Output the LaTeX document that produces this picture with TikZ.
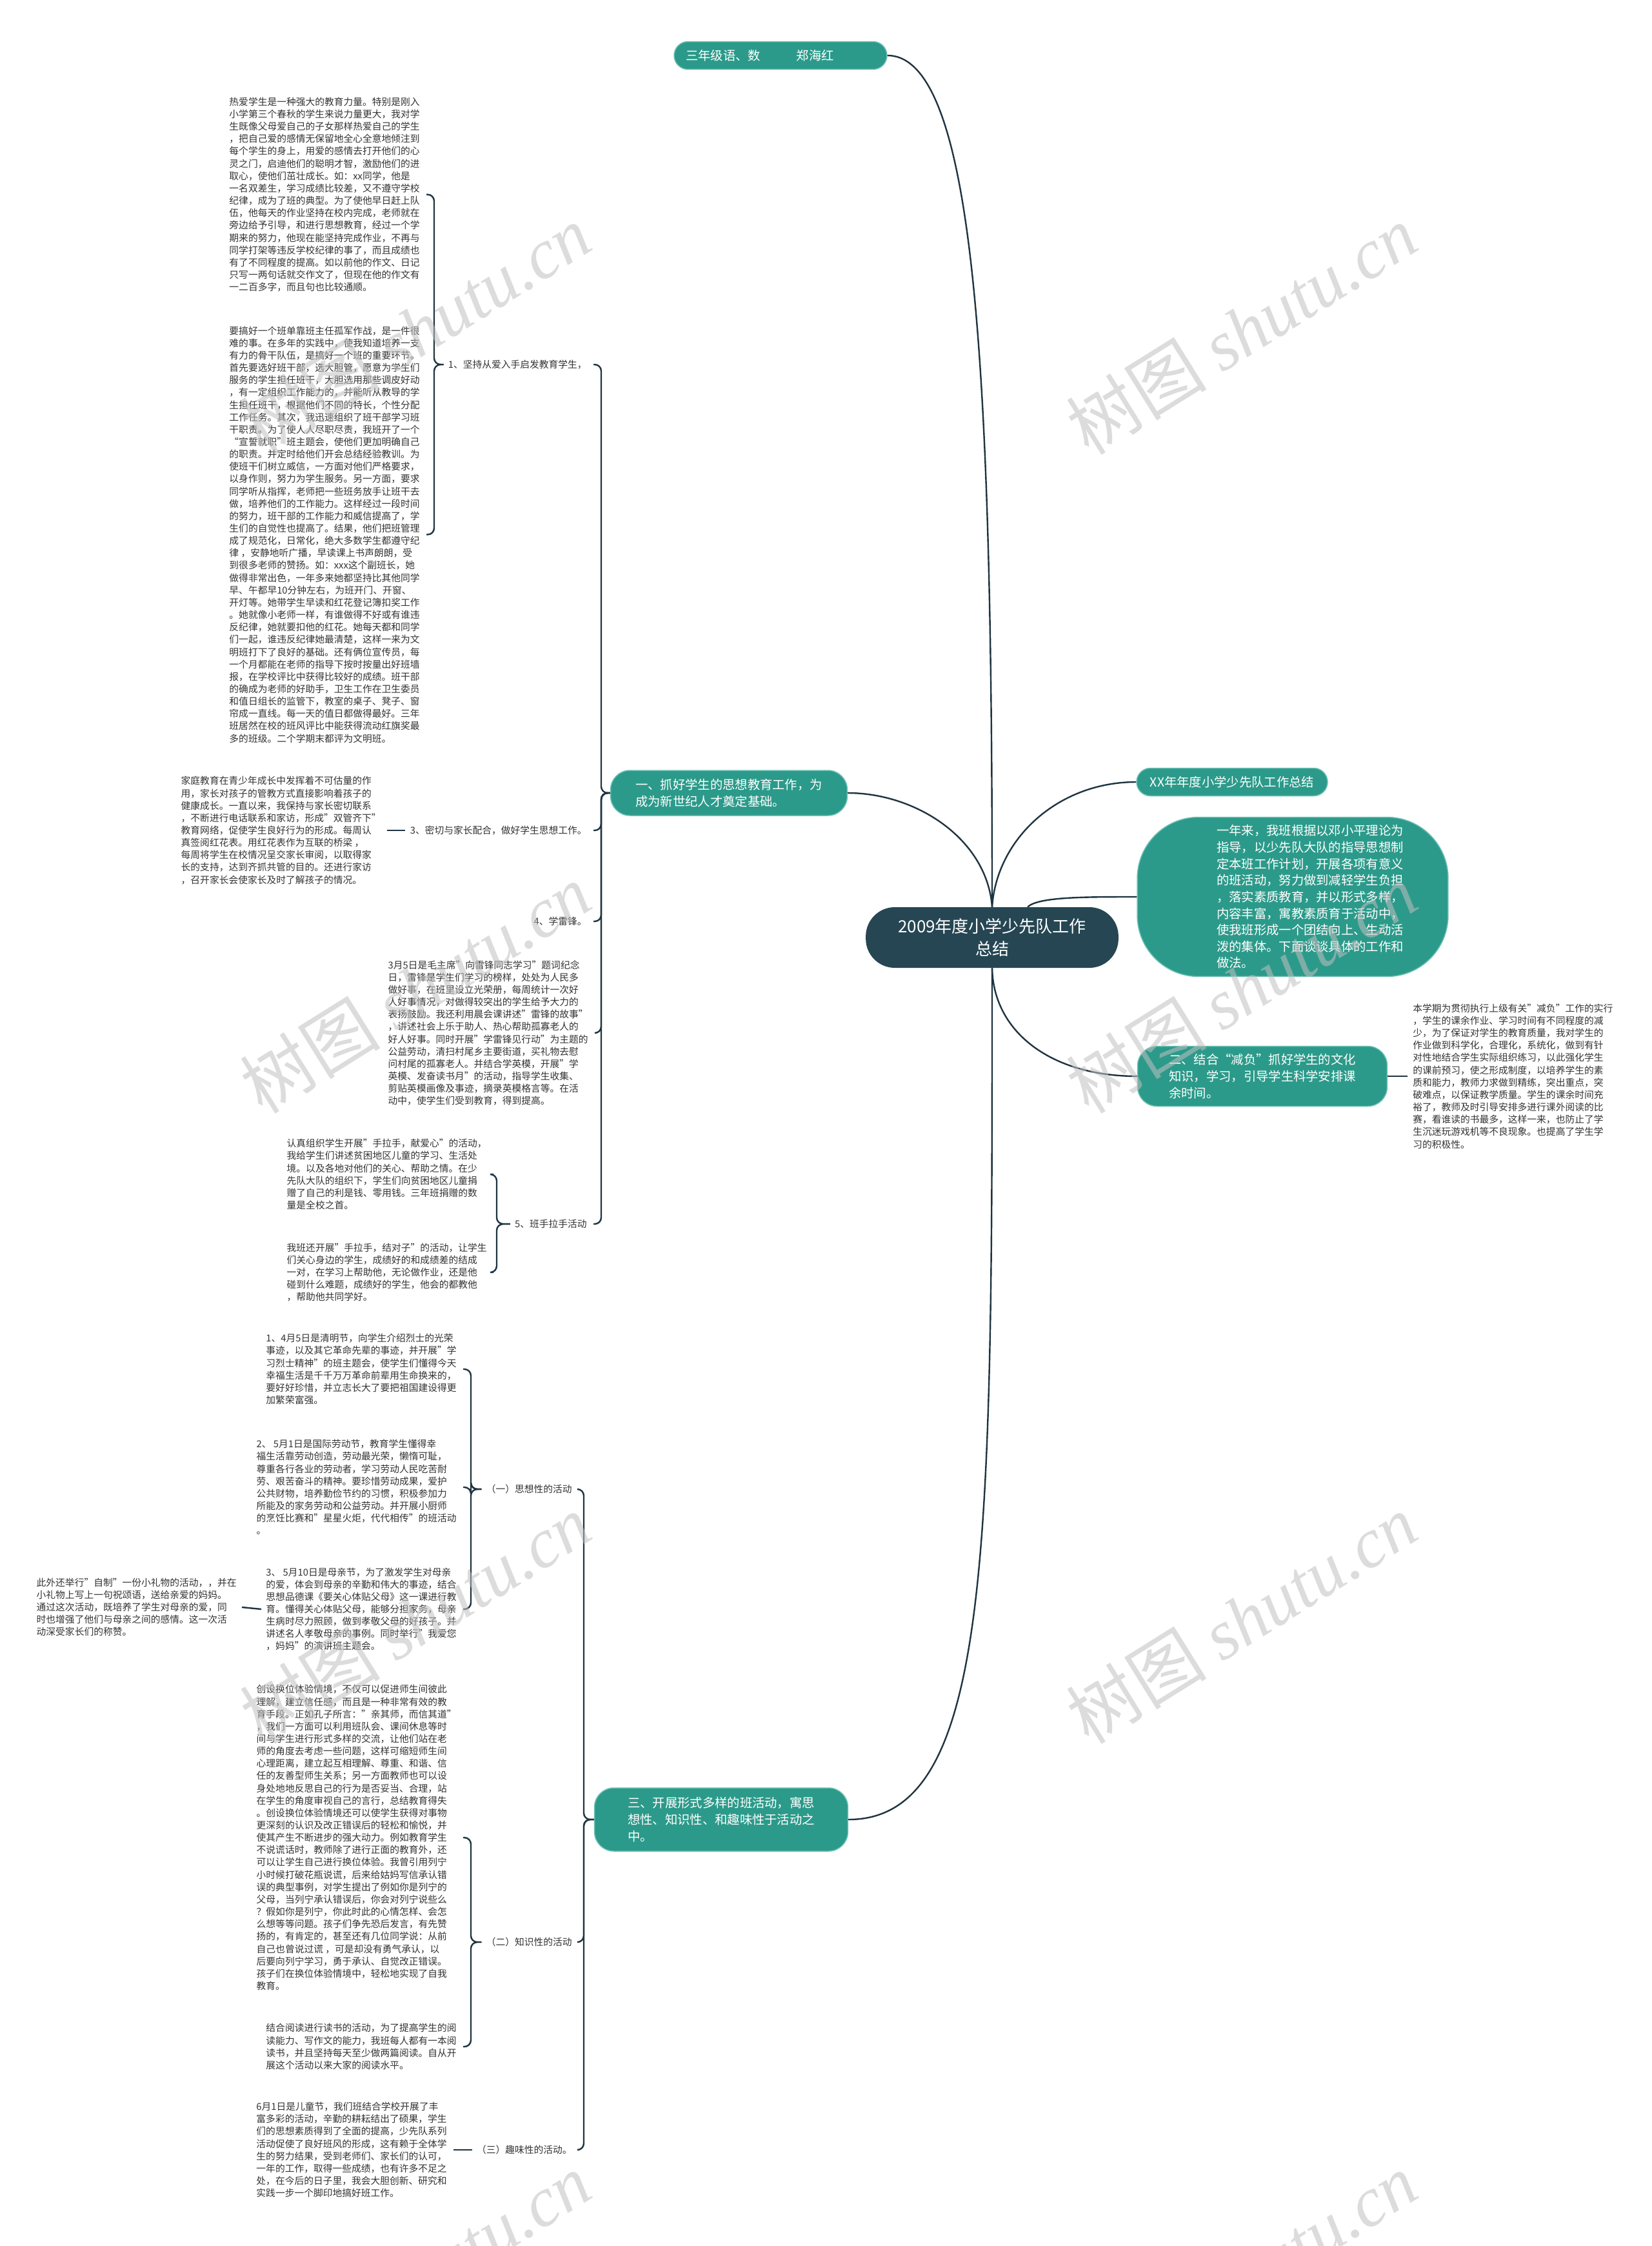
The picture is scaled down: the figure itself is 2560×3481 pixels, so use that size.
\documentclass[tikz,border=0pt]{standalone}
\usepackage{fontspec}
\setmainfont{Noto Sans CJK SC}
\newfontfamily\wmlatin{Liberation Serif}
\usepackage{tikz}
\usetikzlibrary{positioning,calc}
\definecolor{ink}{HTML}{333333}
\definecolor{linecol}{HTML}{1F3440}
\definecolor{tealbox}{HTML}{2C9A8A}
\definecolor{tealedge}{HTML}{6CC0B3}
\definecolor{rootcol}{HTML}{264653}
\definecolor{wmgray}{HTML}{C0C0C0}
\newcommand{\ftext}{\fontsize{8.4pt}{10.9pt}\selectfont}
\newcommand{\fbranch}{\fontsize{11pt}{14.6pt}\selectfont}
\newcommand{\froot}{\fontsize{14.8pt}{19.9pt}\selectfont}
\newcommand{\fwm}{\fontsize{62pt}{70pt}\selectfont}

\begin{document}
\begin{tikzpicture}[x=0.02cm,y=-0.02cm,
  link/.style={draw=linecol,line width=0.048cm},
  elbow/.style={link,rounded corners=0.2cm},
  para/.style={font=\ftext,text=ink,align=left,inner sep=0pt},
  tag/.style={para},
  topic/.style={fill=tealbox,draw=tealedge,line width=0.03cm,text=white,font=\fbranch,align=left,rounded corners=0.6cm},
  pill/.style={topic,rounded corners=0.43cm,minimum height=0.86cm,inner ysep=0pt},
  wm/.style={font=\fwm,text=wmgray,opacity=0.55,rotate=32}]
  \clip (0,0) rectangle (2560,3481);
  \fill[white] (0,0) rectangle (2560,3481);

  % --- 中心主题 ---
  \node[fill=rootcol,text=white,font=\froot,align=center,rounded corners=0.9cm,
    inner xsep=1cm,minimum width=7.78cm,minimum height=1.88cm] (root) at (1538,1453)
    {2009年度小学少先队工作\\总结};

  % --- 右侧主题 ---
  \node[pill,inner xsep=0.36cm] (top) at (1210,86) {三年级语、数\hspace{1.12cm}郑海红\hspace{1.28cm}};
  \node[pill,inner xsep=0.42cm] (xx) at (1910,1212) {XX年年度小学少先队工作总结};
  \node[topic,rounded corners=1.9cm,text width=8.64cm,inner xsep=0.5cm,inner ysep=0.1cm,
    minimum height=4.94cm] (yi) at (2004,1390)
    {\leftskip=1.96cm 一年来，我班根据以邓小平理论为\\
    指导，以少先队大队的指导思想制\\
    定本班工作计划，开展各项有意义\\
    的班活动，努力做到减轻学生负担\\
    ，落实素质教育，并以形式多样，\\
    内容丰富，寓教素质育于活动中，\\
    使我班形成一个团结向上、生动活\\
    泼的集体。下面谈谈具体的工作和\\
    做法。\par};
  \node[topic,inner xsep=0.97cm,minimum height=1.86cm] (er) at (1957,1668)
    {二、结合“减负”抓好学生的文化\\知识，学习，引导学生科学安排课\\余时间。};
  \node[para,anchor=west] (r1) at (2190,1668)
    {本学期为贯彻执行上级有关"减负"工作的实行\\
    ，学生的课余作业、学习时间有不同程度的减\\
    少，为了保证对学生的教育质量，我对学生的\\
    作业做到科学化，合理化，系统化，做到有针\\
    对性地结合学生实际组织练习，以此强化学生\\
    的课前预习，使之形成制度，以培养学生的素\\
    质和能力，教师力求做到精练，突出重点，突\\
    破难点，以保证教学质量。学生的课余时间充\\
    裕了，教师及时引导安排多进行课外阅读的比\\
    赛，看谁读的书最多，这样一来，也防止了学\\
    生沉迷玩游戏机等不良现象。也提高了学生学\\
    习的积极性。};

  % --- 左侧：一 ---
  \node[topic,inner xsep=0.77cm,minimum height=1.4cm] (b1) at (1130,1229)
    {一、抓好学生的思想教育工作，为\\成为新世纪人才奠定基础。};
  \node[tag,anchor=east] (t11) at (910,565) {1、坚持从爱入手启发教育学生，};
  \node[para,anchor=east] (p111) at (651,301.5)
    {热爱学生是一种强大的教育力量。特别是刚入\\
    小学第三个春秋的学生来说力量更大，我对学\\
    生既像父母爱自己的子女那样热爱自己的学生\\
    ，把自己爱的感情无保留地全心全意地倾注到\\
    每个学生的身上，用爱的感情去打开他们的心\\
    灵之门，启迪他们的聪明才智，激励他们的进\\
    取心，使他们茁壮成长。如：xx同学，他是\\
    一名双差生，学习成绩比较差，又不遵守学校\\
    纪律，成为了班的典型。为了使他早日赶上队\\
    伍，他每天的作业坚持在校内完成，老师就在\\
    旁边给予引导，和进行思想教育，经过一个学\\
    期来的努力，他现在能坚持完成作业，不再与\\
    同学打架等违反学校纪律的事了，而且成绩也\\
    有了不同程度的提高。如以前他的作文、日记\\
    只写一两句话就交作文了，但现在他的作文有\\
    一二百多字，而且句也比较通顺。};
  \node[para,anchor=east] (p112) at (651,828.5)
    {要搞好一个班单靠班主任孤军作战，是一件很\\
    难的事。在多年的实践中，使我知道培养一支\\
    有力的骨干队伍，是搞好一个班的重要环节。\\
    首先要选好班干部，选大胆管，愿意为学生们\\
    服务的学生担任班干，大胆选用那些调皮好动\\
    ，有一定组织工作能力的，并能听从教导的学\\
    生担任班干，根据他们不同的特长，个性分配\\
    工作任务。其次，我迅速组织了班干部学习班\\
    干职责。为了使人人尽职尽责，我班开了一个\\
    “宣誓就职”班主题会，使他们更加明确自己\\
    的职责。并定时给他们开会总结经验教训。为\\
    使班干们树立威信，一方面对他们严格要求，\\
    以身作则，努力为学生服务。另一方面，要求\\
    同学听从指挥，老师把一些班务放手让班干去\\
    做，培养他们的工作能力。这样经过一段时间\\
    的努力，班干部的工作能力和威信提高了，学\\
    生们的自觉性也提高了。结果，他们把班管理\\
    成了规范化，日常化，绝大多数学生都遵守纪\\
    律 ，安静地听广播，早读课上书声朗朗，受\\
    到很多老师的赞扬。如：xxx这个副班长，她\\
    做得非常出色，一年多来她都坚持比其他同学\\
    早、午都早10分钟左右，为班开门、开窗、\\
    开灯等。她带学生早读和红花登记簿扣奖工作\\
    。她就像小老师一样，有谁做得不好或有谁违\\
    反纪律，她就要扣他的红花。她每天都和同学\\
    们一起，谁违反纪律她最清楚，这样一来为文\\
    明班打下了良好的基础。还有俩位宣传员，每\\
    一个月都能在老师的指导下按时按量出好班墙\\
    报，在学校评比中获得比较好的成绩。班干部\\
    的确成为老师的好助手，卫生工作在卫生委员\\
    和值日组长的监管下，教室的桌子、凳子、窗\\
    帘成一直线。每一天的值日都做得最好。三年\\
    班居然在校的班风评比中能获得流动红旗奖最\\
    多的班级。二个学期末都评为文明班。};
  \node[tag,anchor=east] (t13) at (910,1287) {3、密切与家长配合，做好学生思想工作。};
  \node[para,anchor=east] (p131) at (591,1287)
    {家庭教育在青少年成长中发挥着不可估量的作\\
    用，家长对孩子的管教方式直接影响着孩子的\\
    健康成长。一直以来，我保持与家长密切联系\\
    ，不断进行电话联系和家访，形成"双管齐下"\\
    教育网络，促使学生良好行为的形成。每周认\\
    真签阅红花表。用红花表作为互联的桥梁 ，\\
    每周将学生在校情况呈交家长审阅，以取得家\\
    长的支持，达到齐抓共管的目的。还进行家访\\
    ，召开家长会使家长及时了解孩子的情况。};
  \node[tag,anchor=east] (t14) at (910,1428) {4、学雷锋。};
  \node[para,anchor=east] (p15) at (912,1601)
    {3月5日是毛主席"向雷锋同志学习"题词纪念\\
    日，雷锋是学生们学习的榜样，处处为人民多\\
    做好事，在班里设立光荣册，每周统计一次好\\
    人好事情况，对做得较突出的学生给予大力的\\
    表扬鼓励。我还利用晨会课讲述"雷锋的故事"\\
    ，讲述社会上乐于助人、热心帮助孤寡老人的\\
    好人好事。同时开展"学雷锋见行动"为主题的\\
    公益劳动，清扫村尾乡主要街道，买礼物去慰\\
    问村尾的孤寡老人。并结合学英模，开展"学\\
    英模、发奋读书月"的活动，指导学生收集、\\
    剪贴英模画像及事迹，摘录英模格言等。在活\\
    动中，使学生们受到教育，得到提高。};
  \node[tag,anchor=east] (t16) at (910,1897) {5、班手拉手活动};
  \node[para,anchor=east] (p161) at (755,1820)
    {认真组织学生开展"手拉手，献爱心"的活动，\\
    我给学生们讲述贫困地区儿童的学习、生活处\\
    境。以及各地对他们的关心、帮助之情。在少\\
    先队大队的组织下，学生们向贫困地区儿童捐\\
    赠了自己的利是钱、零用钱。三年班捐赠的数\\
    量是全校之首。};
  \node[para,anchor=east] (p162) at (755,1972)
    {我班还开展"手拉手，结对子"的活动，让学生\\
    们关心身边的学生，成绩好的和成绩差的结成\\
    一对，在学习上帮助他，无论做作业，还是他\\
    碰到什么难题，成绩好的学生，他会的都教他\\
    ，帮助他共同学好。};

  % --- 左侧：三 ---
  \node[topic,inner xsep=1.03cm,minimum height=1.96cm] (b3) at (1118,2820)
    {三、开展形式多样的班活动，寓思\\想性、知识性、和趣味性于活动之\\中。};
  \node[tag,anchor=east] (t31) at (887,2308) {（一）思想性的活动};
  \node[para,anchor=east] (p311) at (708,2122)
    {1、4月5日是清明节，向学生介绍烈士的光荣\\
    事迹，以及其它革命先辈的事迹，并开展"学\\
    习烈士精神"的班主题会，使学生们懂得今天\\
    幸福生活是千千万万革命前辈用生命换来的，\\
    要好好珍惜，并立志长大了要把祖国建设得更\\
    加繁荣富强。};
  \node[para,anchor=east] (p312) at (708,2305)
    {2、 5月1日是国际劳动节，教育学生懂得幸\\
    福生活靠劳动创造，劳动最光荣，懒惰可耻，\\
    尊重各行各业的劳动者，学习劳动人民吃苦耐\\
    劳、艰苦奋斗的精神。要珍惜劳动成果，爱护\\
    公共财物，培养勤俭节约的习惯，积极参加力\\
    所能及的家务劳动和公益劳动。并开展小厨师\\
    的烹饪比赛和"星星火炬，代代相传"的班活动\\
    。};
  \node[para,anchor=east] (p313) at (708,2494)
    {3、 5月10日是母亲节，为了激发学生对母亲\\
    的爱，体会到母亲的辛勤和伟大的事迹，结合\\
    思想品德课《要关心体贴父母》这一课进行教\\
    育。懂得关心体贴父母，能够分担家务，母亲\\
    生病时尽力照顾，做到孝敬父母的好孩子。并\\
    讲述名人孝敬母亲的事例。同时举行"我爱您\\
    ，妈妈"的演讲班主题会。};
  \node[para,anchor=east] (p3131) at (367,2491)
    {此外还举行"自制"一份小礼物的活动，，并在\\
    小礼物上写上一句祝颂语，送给亲爱的妈妈。\\
    通过这次活动，既培养了学生对母亲的爱，同\\
    时也增强了他们与母亲之间的感情。这一次活\\
    动深受家长们的称赞。};
  \node[tag,anchor=east] (t32) at (887,3010) {（二）知识性的活动};
  \node[para,anchor=east] (p321) at (708,2848)
    {创设换位体验情境，不仅可以促进师生间彼此\\
    理解，建立信任感，而且是一种非常有效的教\\
    育手段。正如孔子所言："亲其师，而信其道"\\
    ，我们一方面可以利用班队会、课间休息等时\\
    间与学生进行形式多样的交流，让他们站在老\\
    师的角度去考虑一些问题，这样可缩短师生间\\
    心理距离，建立起互相理解、尊重、和谐、信\\
    任的友善型师生关系；另一方面教师也可以设\\
    身处地地反思自己的行为是否妥当、合理，站\\
    在学生的角度审视自己的言行，总结教育得失\\
    。创设换位体验情境还可以使学生获得对事物\\
    更深刻的认识及改正错误后的轻松和愉悦，并\\
    使其产生不断进步的强大动力。例如教育学生\\
    不说谎话时，教师除了进行正面的教育外，还\\
    可以让学生自己进行换位体验。我曾引用列宁\\
    小时候打破花瓶说谎，后来给姑妈写信承认错\\
    误的典型事例，对学生提出了例如你是列宁的\\
    父母，当列宁承认错误后，你会对列宁说些么\\
    ？假如你是列宁，你此时此的心情怎样、会怎\\
    么想等等问题。孩子们争先恐后发言，有先赞\\
    扬的，有肯定的，甚至还有几位同学说：从前\\
    自己也曾说过谎 ，可是却没有勇气承认，以\\
    后要向列宁学习，勇于承认、自觉改正错误。\\
    孩子们在换位体验情境中，轻松地实现了自我\\
    教育。};
  \node[para,anchor=east] (p322) at (708,3172)
    {结合阅读进行读书的活动，为了提高学生的阅\\
    读能力、写作文的能力，我班每人都有一本阅\\
    读书，并且坚持每天至少做两篇阅读。自从开\\
    展这个活动以来大家的阅读水平。};
  \node[tag,anchor=east] (t33) at (887,3332) {（三）趣味性的活动。};
  \node[para,anchor=east] (p331) at (693,3332)
    {6月1日是儿童节，我们班结合学校开展了丰\\
    富多彩的活动，辛勤的耕耘结出了硕果，学生\\
    们的思想素质得到了全面的提高，少先队系列\\
    活动促使了良好班风的形成，这有赖于全体学\\
    生的努力结果，受到老师们、家长们的认可，\\
    一年的工作，取得一些成绩，也有许多不足之\\
    处，在今后的日子里，我会大胆创新、研究和\\
    实践一步一个脚印地搞好班工作。};

  % --- 连线：中心 ---
  \draw[link] (root.north) .. controls (1538,600) and (1515,86) .. (top.east);
  \draw[link] (root.north) .. controls (1530,1300) and (1420,1229) .. (b1.east);
  \draw[link] (root.north) .. controls (1545,1300) and (1640,1212) .. (xx.west);
  \draw[link] ([xshift=1.1cm]root.north) .. controls (1610,1390) and (1680,1390) .. (yi.west);
  \draw[link] (root.south) .. controls (1540,1600) and (1630,1668) .. (er.west);
  \draw[link] (root.south) .. controls (1538,2400) and (1538,2820) .. (b3.east);
  \draw[link] (er.east) -- ([xshift=-0.16cm]r1.west);

  % --- 连线：一 ---
  \coordinate (v11) at (673,0);
  \coordinate (v16) at (770,0);
  \coordinate (vb1) at (932,0);
  \foreach \c in {p111,p112}
    \draw[elbow] ([xshift=0.2cm]\c.east) -- (\c.east -| v11) -- (t11.west -| v11) -- ([xshift=-0.14cm]t11.west);
  \draw[link] ([xshift=0.18cm]p131.east) -- ([xshift=-0.14cm]t13.west);
  \foreach \c in {p161,p162}
    \draw[elbow] ([xshift=0.2cm]\c.east) -- (\c.east -| v16) -- (t16.west -| v16) -- ([xshift=-0.14cm]t16.west);
  \foreach \c in {t11,t13,t14,p15,t16}
    \draw[elbow] ([xshift=0.2cm]\c.east) -- (\c.east -| vb1) -- (b1.west -| vb1) -- (b1.west);

  % --- 连线：三 ---
  \coordinate (v31) at (730,0);
  \coordinate (vb3) at (905,0);
  \foreach \c in {p311,p312,p313}
    \draw[elbow] ([xshift=0.2cm]\c.east) -- (\c.east -| v31) -- (t31.west -| v31) -- ([xshift=-0.14cm]t31.west);
  \draw[link] ([xshift=0.16cm]p3131.east) -- ([xshift=-0.14cm]p313.west);
  \foreach \c in {p321,p322}
    \draw[elbow] ([xshift=0.2cm]\c.east) -- (\c.east -| v31) -- (t32.west -| v31) -- ([xshift=-0.14cm]t32.west);
  \draw[link] ([xshift=0.2cm]p331.east) -- ([xshift=-0.14cm]t33.west);
  \foreach \c in {t31,t32,t33}
    \draw[elbow] ([xshift=0.2cm]\c.east) -- (\c.east -| vb3) -- (b3.west -| vb3) -- (b3.west);

  % --- 水印 ---
  \foreach \x in {644,1925}
    \foreach \y in {511,1532,2509,3530}
      \node[wm] (wm\x\y) at (\x,\y) {树图 {\wmlatin\itshape shutu.cn}};
\end{tikzpicture}
\end{document}
